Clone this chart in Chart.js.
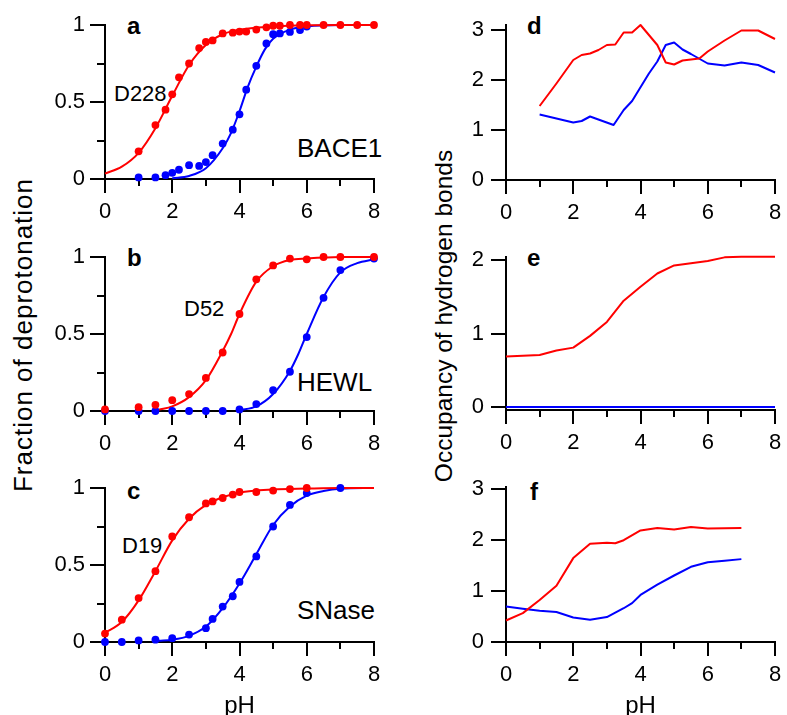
<!DOCTYPE html>
<html>
<head>
<meta charset="utf-8">
<title>Deprotonation and hydrogen bonds vs pH</title>
<script src="https://cdn.jsdelivr.net/npm/chart.js@4.4.1/dist/chart.umd.min.js"></script>
<style>
  html, body { margin: 0; padding: 0; background: #fff; }
  body { position: relative; width: 787px; height: 715px; overflow: hidden;
         font-family: "Liberation Sans", Arial, Helvetica, sans-serif; color: #000; }
  canvas { position: absolute; }
  .txt { position: absolute; white-space: nowrap; line-height: 1; }
  .tag { font-size: 26px; }
  .res { font-size: 22px; }
  .letter { font-size: 24px; font-weight: bold; }
  .ytitle { position: absolute; white-space: nowrap; line-height: 1;
            transform: translate(-50%, -50%) rotate(-90deg); }
</style>
</head>
<body>

<div class="ytitle" style="left:23px;top:335px;font-size:26px;letter-spacing:1px">Fraction of deprotonation</div>
<div class="ytitle" style="left:444px;top:316px;font-size:24.5px">Occupancy of hydrogen bonds</div>

<div class="txt letter" style="left:127px;top:14px">a</div>
<div class="txt letter" style="left:127px;top:246px">b</div>
<div class="txt letter" style="left:127px;top:479px">c</div>
<div class="txt letter" style="left:527px;top:14px">d</div>
<div class="txt letter" style="left:527px;top:246px">e</div>
<div class="txt letter" style="left:530px;top:480px">f</div>

<div class="txt res" style="left:114px;top:83px">D228</div>
<div class="txt res" style="left:184px;top:298px">D52</div>
<div class="txt res" style="left:122px;top:535px">D19</div>
<div class="txt tag" style="left:297px;top:135px">BACE1</div>
<div class="txt tag" style="left:297px;top:369px">HEWL</div>
<div class="txt tag" style="left:297px;top:597px">SNase</div>

<script>
// ---- tick values ----
const xTicks = [0, 2, 4, 6, 8];
const xMinor = [1, 3, 5, 7];
const fracTicks = [0, 0.5, 1];
const fracMinor = [0.25, 0.75];
const hbTicks3 = [0, 1, 2, 3];
const hbTicks2 = [0, 1, 2];

// ---- a: BACE1 ----
const aRedDotX = [1, 1.5, 1.8, 2, 2.2, 2.5, 2.8, 3, 3.2, 3.5, 3.8, 4, 4.2, 4.5, 4.8, 5, 5.2, 5.5, 5.8, 6, 6.5, 7, 7.5, 8];
const aRedDotY = [0.18, 0.35, 0.45, 0.55, 0.66, 0.75, 0.85, 0.89, 0.9, 0.945, 0.95, 0.957, 0.957, 0.97, 0.985, 0.995, 0.995, 1, 1, 1, 1, 1, 1, 1];
const aBlueDotX = [1, 1.5, 1.8, 2, 2.2, 2.5, 2.8, 3, 3.2, 3.5, 3.8, 4, 4.2, 4.5, 4.8, 5, 5.2, 5.5, 5.8, 6];
const aBlueDotY = [0.01, 0.01, 0.025, 0.04, 0.06, 0.09, 0.085, 0.11, 0.155, 0.23, 0.32, 0.42, 0.58, 0.735, 0.88, 0.94, 0.945, 0.955, 0.967, 0.99];
const aRedFitX = [0, 0.5, 1, 1.5, 2, 2.5, 3, 3.5, 4, 5, 6, 7, 8];
const aRedFitY = [0.035, 0.08, 0.17, 0.33, 0.54, 0.74, 0.87, 0.94, 0.97, 0.99, 0.998, 1, 1];
const aBlueFitX = [2, 2.5, 3, 3.5, 3.75, 4, 4.25, 4.5, 4.75, 5, 5.5, 6, 7, 8];
const aBlueFitY = [0.005, 0.02, 0.07, 0.2, 0.3, 0.44, 0.6, 0.73, 0.84, 0.91, 0.97, 0.99, 1, 1];

// ---- b: HEWL ----
const bDotX = [0, 1, 1.5, 2, 2.5, 3, 3.5, 4, 4.5, 5, 5.5, 6, 6.5, 7, 8];
const bRedDotY = [0.01, 0.025, 0.04, 0.07, 0.11, 0.215, 0.38, 0.63, 0.855, 0.945, 0.99, 0.985, 1, 1, 1];
const bBlueDotY = [0, 0, 0, 0, 0, 0, 0, 0.01, 0.045, 0.135, 0.255, 0.48, 0.735, 0.915, 0.99];
const bRedFitX = [1.6, 2, 2.5, 3, 3.5, 3.75, 4, 4.5, 5, 5.5, 6, 7, 8];
const bRedFitY = [0.008, 0.03, 0.09, 0.2, 0.39, 0.5, 0.63, 0.84, 0.94, 0.98, 0.99, 1, 1];
const bBlueFitX = [4, 4.5, 5, 5.5, 5.75, 6, 6.5, 7, 7.5, 8];
const bBlueFitY = [0.006, 0.03, 0.11, 0.26, 0.37, 0.5, 0.74, 0.9, 0.96, 0.985];

// ---- c: SNase ----
const cRedDotX = [0, 0.5, 1, 1.5, 2, 2.5, 3, 3.2, 3.5, 3.8, 4, 4.5, 5, 5.5, 6];
const cRedDotY = [0.055, 0.145, 0.285, 0.46, 0.685, 0.81, 0.9, 0.913, 0.935, 0.957, 0.974, 0.974, 0.983, 0.993, 1];
const cBlueDotX = [0, 0.5, 1, 1.5, 2, 2.5, 3, 3.2, 3.5, 3.8, 4, 4.5, 5, 5.5, 6, 7];
const cBlueDotY = [0, 0, 0.01, 0.015, 0.025, 0.048, 0.09, 0.15, 0.23, 0.297, 0.39, 0.556, 0.75, 0.89, 0.967, 1];
const cRedFitX = [0, 0.5, 1, 1.5, 2, 2.5, 3, 3.5, 4, 5, 6, 7, 8];
const cRedFitY = [0.06, 0.13, 0.27, 0.46, 0.66, 0.8, 0.89, 0.94, 0.97, 0.99, 0.996, 1, 1];
const cBlueFitX = [1.6, 2, 2.5, 3, 3.5, 4, 4.5, 5, 5.5, 6, 6.5, 7, 8];
const cBlueFitY = [0.008, 0.015, 0.04, 0.1, 0.22, 0.38, 0.57, 0.76, 0.88, 0.95, 0.98, 0.995, 1];

// ---- d ----
const dRedX = [1, 1.5, 2, 2.25, 2.5, 2.75, 3, 3.25, 3.5, 3.75, 4, 4.5, 4.75, 5, 5.25, 5.75, 6, 6.5, 7, 7.5, 8];
const dRedY = [1.48, 1.93, 2.4, 2.5, 2.53, 2.6, 2.7, 2.71, 2.95, 2.95, 3.1, 2.7, 2.35, 2.31, 2.39, 2.43, 2.57, 2.79, 2.99, 2.99, 2.82];
const dBlueX = [1, 2, 2.25, 2.5, 3.2, 3.5, 3.75, 4.25, 4.5, 4.75, 5, 5.25, 5.5, 6, 6.5, 7, 7.5, 8];
const dBlueY = [1.31, 1.15, 1.18, 1.27, 1.1, 1.4, 1.58, 2.13, 2.37, 2.7, 2.75, 2.61, 2.52, 2.33, 2.29, 2.35, 2.3, 2.15];

// ---- e ----
const eX = [0, 1, 1.5, 2, 2.5, 3, 3.5, 4, 4.5, 5, 5.5, 6, 6.5, 7, 8];
const eRedY = [0.69, 0.71, 0.77, 0.81, 0.97, 1.16, 1.45, 1.64, 1.82, 1.93, 1.96, 1.99, 2.04, 2.05, 2.05];
const eBlueY = [0, 0, 0, 0, 0, 0, 0, 0, 0, 0, 0, 0, 0, 0, 0];

// ---- f ----
const fRedX = [0, 0.5, 1, 1.5, 2, 2.5, 3, 3.25, 3.5, 4, 4.5, 5, 5.5, 6, 7];
const fRedY = [0.42, 0.565, 0.82, 1.1, 1.64, 1.92, 1.94, 1.93, 1.99, 2.18, 2.23, 2.2, 2.25, 2.22, 2.23];
const fBlueX = [0, 0.5, 1, 1.5, 2, 2.5, 3, 3.5, 3.75, 4, 4.5, 5, 5.5, 6, 6.5, 7];
const fBlueY = [0.695, 0.65, 0.61, 0.585, 0.48, 0.435, 0.487, 0.66, 0.76, 0.92, 1.12, 1.3, 1.47, 1.56, 1.59, 1.62];

const RED = '#ff0000';
const BLUE = '#0000ff';
const FONT = '"Liberation Sans", Arial, Helvetica, sans-serif';
Chart.defaults.font.family = FONT;
Chart.defaults.color = '#000';

function pts(xs, ys) {
  return xs.map((x, i) => ({ x: x, y: ys[i] }));
}

function dots(xs, ys, color) {
  return { data: pts(xs, ys), showLine: false, pointRadius: 3.9, pointBorderWidth: 0,
           pointBackgroundColor: color, clip: false };
}

function curve(xs, ys, color, smooth) {
  return { data: pts(xs, ys), showLine: true, pointRadius: 0, borderColor: color, borderWidth: 2,
           cubicInterpolationMode: smooth ? 'monotone' : 'default', tension: 0,
           borderJoinStyle: 'round', clip: false };
}

// short ticks between the labelled ones
const minorTicks = {
  id: 'minorTicks',
  beforeDatasetsDraw(chart, args, opts) {
    const ctx = chart.ctx, xs = chart.scales.x, ys = chart.scales.y;
    ctx.save();
    ctx.strokeStyle = '#000';
    ctx.lineWidth = 2;
    ctx.beginPath();
    (opts.x || []).forEach(v => {
      const px = Math.round(xs.getPixelForValue(v));
      ctx.moveTo(px, xs.top);
      ctx.lineTo(px, xs.top + 7);
    });
    (opts.y || []).forEach(v => {
      const py = Math.round(ys.getPixelForValue(v));
      ctx.moveTo(ys.right, py);
      ctx.lineTo(ys.right - 8, py);
    });
    ctx.stroke();
    ctx.restore();
  }
};

function axisBase(tickLen, pad) {
  return {
    type: 'linear',
    grid: { drawOnChartArea: false, drawTicks: true, tickLength: tickLen, color: '#000',
            tickColor: '#000', lineWidth: 2, tickWidth: 2 },
    border: { display: true, color: '#000', width: 2 },
    ticks: { color: '#000', font: { size: 22 }, padding: pad, maxRotation: 0,
             autoSkip: false, callback: v => String(v) }
  };
}

function makePanel(p) {
  const cv = document.createElement('canvas');
  const top = p.top - 25;
  const xH = p.pH ? 76 : 51;
  cv.width = p.canvasW;
  cv.height = p.bottom - top + xH;
  cv.style.left = p.canvasL + 'px';
  cv.style.top = top + 'px';
  document.body.appendChild(cv);

  const x = axisBase(14, 6);
  x.min = 0;
  x.max = 8;
  x.afterBuildTicks = s => { s.ticks = xTicks.map(v => ({ value: v })); };
  x.afterFit = s => { s.height = xH; s.paddingLeft = 0; s.paddingRight = 0; };
  x.title = { display: !!p.pH, text: 'pH', color: '#000', padding: 0,
              font: { size: 24, lineHeight: 1 } };

  const y = axisBase(15, p.yPad);
  y.min = p.yMin;
  y.max = p.yMax;
  y.afterBuildTicks = s => { s.ticks = p.yTicks.map(v => ({ value: v })); };
  y.afterFit = s => { s.width = p.left - p.canvasL; s.paddingTop = 0; s.paddingBottom = 0; };

  new Chart(cv, {
    type: 'scatter',
    data: { datasets: p.datasets },
    options: {
      responsive: false,
      animation: false,
      devicePixelRatio: 1,
      events: [],
      layout: { padding: { top: 25, left: 0, bottom: 0, right: p.canvasL + p.canvasW - p.right } },
      plugins: {
        legend: { display: false },
        tooltip: { enabled: false },
        minorTicks: { x: xMinor, y: p.yMinor }
      },
      scales: { x: x, y: y }
    },
    plugins: [minorTicks]
  });
}

const leftCol = { canvasL: 0, canvasW: 400, left: 105, right: 374, yPad: 5,
                  yMin: 0, yMax: 1, yTicks: fracTicks, yMinor: fracMinor };
const rightCol = { canvasL: 400, canvasW: 387, left: 506, right: 775, yPad: 7, yMinor: [] };

makePanel(Object.assign({}, leftCol, { top: 25, bottom: 179, datasets: [
  dots(aRedDotX, aRedDotY, RED), dots(aBlueDotX, aBlueDotY, BLUE),
  curve(aRedFitX, aRedFitY, RED, true), curve(aBlueFitX, aBlueFitY, BLUE, true)
] }));

makePanel(Object.assign({}, leftCol, { top: 257, bottom: 411, datasets: [
  dots(bDotX, bRedDotY, RED), dots(bDotX, bBlueDotY, BLUE),
  curve(bRedFitX, bRedFitY, RED, true), curve(bBlueFitX, bBlueFitY, BLUE, true)
] }));

makePanel(Object.assign({}, leftCol, { top: 488, bottom: 642, pH: true, datasets: [
  dots(cRedDotX, cRedDotY, RED), dots(cBlueDotX, cBlueDotY, BLUE),
  curve(cRedFitX, cRedFitY, RED, true), curve(cBlueFitX, cBlueFitY, BLUE, true)
] }));

makePanel(Object.assign({}, rightCol, { top: 25, bottom: 180, yMin: 0, yMax: 3.1, yTicks: hbTicks3, datasets: [
  curve(dRedX, dRedY, RED, false), curve(dBlueX, dBlueY, BLUE, false)
] }));

makePanel(Object.assign({}, rightCol, { top: 257, bottom: 410, yMin: -0.04, yMax: 2.045, yTicks: hbTicks2, datasets: [
  curve(eX, eRedY, RED, false), curve(eX, eBlueY, BLUE, false)
] }));

makePanel(Object.assign({}, rightCol, { top: 487, bottom: 642, pH: true, yMin: 0, yMax: 3.03, yTicks: hbTicks3, datasets: [
  curve(fRedX, fRedY, RED, false), curve(fBlueX, fBlueY, BLUE, false)
] }));
</script>
</body>
</html>
